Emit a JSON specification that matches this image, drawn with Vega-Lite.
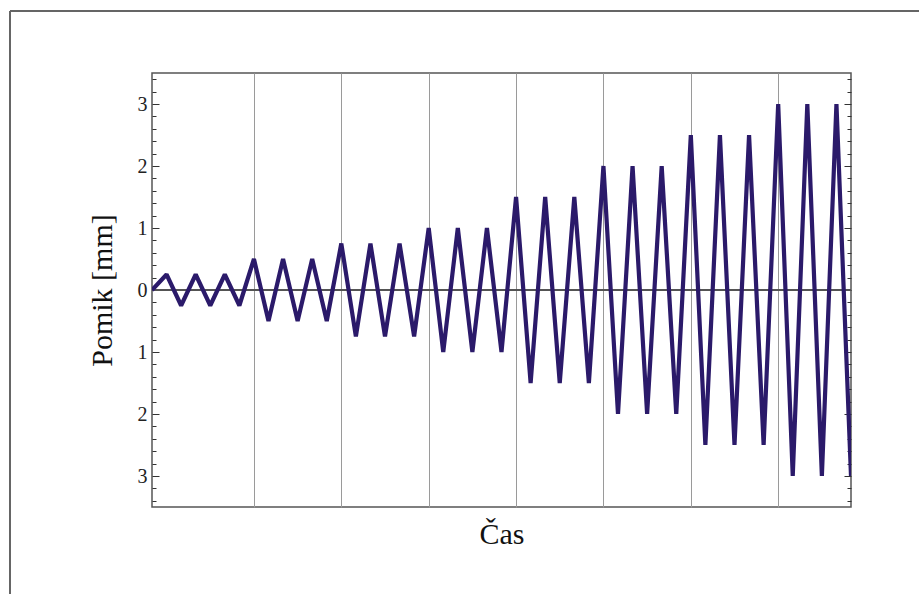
{
  "$schema": "https://vega.github.io/schema/vega-lite/v6.json",
  "width": 699,
  "height": 434,
  "autosize": {"type": "none"},
  "padding": {"left": 152, "top": 73, "right": 68, "bottom": 87},
  "background": "white",
  "config": {
    "view": {"stroke": "#555555", "strokeWidth": 1.5},
    "font": "Liberation Serif"
  },
  "data": {
    "values": [
      {"t": 0, "v": 0},
      {"t": 1, "v": 0.25}, {"t": 2, "v": -0.25}, {"t": 3, "v": 0.25}, {"t": 4, "v": -0.25}, {"t": 5, "v": 0.25}, {"t": 6, "v": -0.25},
      {"t": 7, "v": 0.5}, {"t": 8, "v": -0.5}, {"t": 9, "v": 0.5}, {"t": 10, "v": -0.5}, {"t": 11, "v": 0.5}, {"t": 12, "v": -0.5},
      {"t": 13, "v": 0.75}, {"t": 14, "v": -0.75}, {"t": 15, "v": 0.75}, {"t": 16, "v": -0.75}, {"t": 17, "v": 0.75}, {"t": 18, "v": -0.75},
      {"t": 19, "v": 1}, {"t": 20, "v": -1}, {"t": 21, "v": 1}, {"t": 22, "v": -1}, {"t": 23, "v": 1}, {"t": 24, "v": -1},
      {"t": 25, "v": 1.5}, {"t": 26, "v": -1.5}, {"t": 27, "v": 1.5}, {"t": 28, "v": -1.5}, {"t": 29, "v": 1.5}, {"t": 30, "v": -1.5},
      {"t": 31, "v": 2}, {"t": 32, "v": -2}, {"t": 33, "v": 2}, {"t": 34, "v": -2}, {"t": 35, "v": 2}, {"t": 36, "v": -2},
      {"t": 37, "v": 2.5}, {"t": 38, "v": -2.5}, {"t": 39, "v": 2.5}, {"t": 40, "v": -2.5}, {"t": 41, "v": 2.5}, {"t": 42, "v": -2.5},
      {"t": 43, "v": 3}, {"t": 44, "v": -3}, {"t": 45, "v": 3}, {"t": 46, "v": -3}, {"t": 47, "v": 3}, {"t": 48, "v": -3}
    ]
  },
  "layer": [
    {
      "mark": {"type": "rule", "color": "#555555", "strokeWidth": 1.5},
      "encoding": {
        "y": {"datum": 0, "type": "quantitative", "scale": {"domain": [-3.5, 3.5], "nice": false, "zero": false},
          "axis": {
            "orient": "right", "title": null, "labels": false, "domain": false, "grid": false,
            "values": [-3.4,-3.2,-3,-2.8,-2.6,-2.4,-2.2,-2,-1.8,-1.6,-1.4,-1.2,-1,-0.8,-0.6,-0.4,-0.2,0,0.2,0.4,0.6,0.8,1,1.2,1.4,1.6,1.8,2,2.2,2.4,2.6,2.8,3,3.2,3.4],
            "tickColor": "#333333", "tickWidth": 1,
            "tickSize": {"condition": {"test": "abs(datum.value - round(datum.value)) < 0.001", "value": -7}, "value": -4}
          }
        }
      }
    },
    {
      "mark": {"type": "line", "color": "#2b1a6a", "strokeWidth": 4.2, "strokeJoin": "bevel", "clip": true},
      "encoding": {
        "x": {"field": "t", "type": "quantitative", "scale": {"domain": [0, 48], "nice": false, "zero": false},
          "axis": {
            "title": "Čas", "titleFont": "Liberation Serif", "titleFontSize": 30, "titleFontWeight": "normal", "titleColor": "#111111", "titlePadding": 12,
            "labels": false, "ticks": false, "domain": false,
            "grid": true, "values": [7, 13, 19, 25, 31, 37, 43], "gridColor": "#9a9a9a", "gridWidth": 1, "gridOpacity": 1
          }
        },
        "y": {"field": "v", "type": "quantitative", "scale": {"domain": [-3.5, 3.5], "nice": false, "zero": false},
          "axis": {
            "orient": "left", "title": "Pomik [mm]", "titleFont": "Liberation Serif", "titleFontSize": 30, "titleFontWeight": "normal", "titleColor": "#111111", "titlePadding": 20,
            "domain": false, "grid": false,
            "values": [-3.4,-3.2,-3,-2.8,-2.6,-2.4,-2.2,-2,-1.8,-1.6,-1.4,-1.2,-1,-0.8,-0.6,-0.4,-0.2,0,0.2,0.4,0.6,0.8,1,1.2,1.4,1.6,1.8,2,2.2,2.4,2.6,2.8,3,3.2,3.4],
            "labelExpr": "abs(datum.value - round(datum.value)) < 0.001 ? format(abs(datum.value), 'd') : ''",
            "labelOverlap": false, "labelBound": false, "labelFont": "Liberation Serif", "labelFontSize": 20, "labelColor": "#222222", "labelPadding": 12,
            "tickColor": "#333333", "tickWidth": 1,
            "tickSize": {"condition": {"test": "abs(datum.value - round(datum.value)) < 0.001", "value": -7}, "value": -4}
          }
        }
      }
    },
    {
      "mark": {"type": "rule", "color": "#666666", "strokeWidth": 1.5},
      "encoding": {
        "x": {"datum": -9.75, "type": "quantitative", "axis": null},
        "y": {"datum": 4.5, "type": "quantitative", "axis": null},
        "y2": {"datum": -6}
      }
    },
    {
      "mark": {"type": "rule", "color": "#666666", "strokeWidth": 1.5},
      "encoding": {
        "y": {"datum": 4.5, "type": "quantitative", "axis": null},
        "x": {"datum": -9.75, "type": "quantitative", "axis": null},
        "x2": {"datum": 56}
      }
    }
  ],
  "resolve": {"axis": {"y": "independent", "x": "independent"}}
}
